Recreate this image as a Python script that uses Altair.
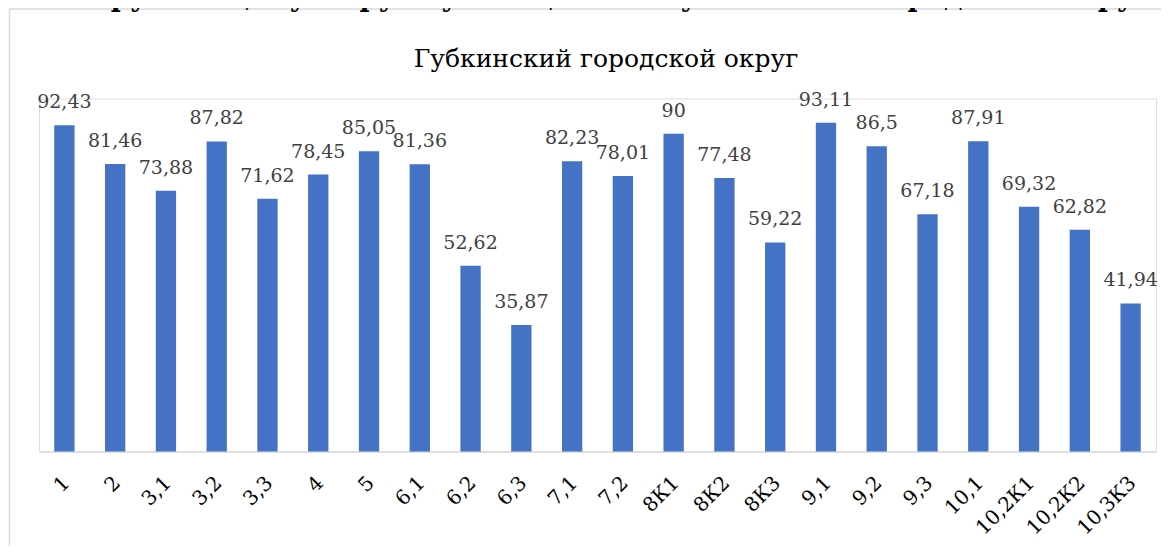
import altair as alt
import pandas as pd

categories = ["1", "2", "3,1", "3,2", "3,3", "4", "5", "6,1", "6,2", "6,3", "7,1", "7,2",
              "8К1", "8К2", "8К3", "9,1", "9,2", "9,3", "10,1", "10,2К1", "10,2К2", "10,3К3"]
values = [92.43, 81.46, 73.88, 87.82, 71.62, 78.45, 85.05, 81.36, 52.62, 35.87, 82.23, 78.01,
          90, 77.48, 59.22, 93.11, 86.5, 67.18, 87.91, 69.32, 62.82, 41.94]
chart_title = "Губкинский городской округ"
top_title = "по окружающему миру обучающимися Губкинского городского округа"

df = pd.DataFrame({"cat": categories, "value": values})

FONT = "DejaVu Serif"
W, H = 1117, 353

x = alt.X("cat:N", sort=categories, title=None,
          scale=alt.Scale(paddingInner=0.6, paddingOuter=0.3),
          axis=alt.Axis(labelAngle=315, labelAlign="right", labelBaseline="top",
                        labelFont=FONT, labelFontSize=20, labelColor="#000000",
                        labelPadding=21, labelOffset=-5, ticks=False,
                        domainColor="#D9D9D9", domainWidth=1.5, labelOverlap=False))
y = alt.Y("value:Q", scale=alt.Scale(domain=[0, 100]), axis=None)

base = alt.Chart(df)

bars = base.mark_bar(color="#4472C4").encode(x=x, y=y)

labels = base.transform_calculate(
    lbl="replace(toString(datum.value), '.', ',')"
).mark_text(font=FONT, fontSize=19, color="#404040", baseline="alphabetic", dy=-17).encode(
    x=alt.X("cat:N", sort=categories), y=y, text="lbl:N")

border = alt.Chart(pd.DataFrame({"a": [0]})).mark_rect(
    fill=None, stroke="#D9D9D9", strokeWidth=1.5
).encode(x=alt.value(-29.5), x2=alt.value(W + 100), y=alt.value(-89.5), y2=alt.value(H + 300))

title_txt = alt.Chart(pd.DataFrame({"t": [chart_title]})).mark_text(
    font=FONT, fontSize=25, color="#000000", baseline="alphabetic", align="center"
).encode(x=alt.value(567), y=alt.value(-31.5), text="t:N")

top_txt = alt.Chart(pd.DataFrame({"t": [top_title]})).mark_text(
    font=FONT, fontSize=27, fontWeight="bold", color="#000000", baseline="alphabetic", align="center"
).encode(x=alt.value(558), y=alt.value(-92.5), text="t:N")

chart = alt.layer(border, bars, labels, title_txt, top_txt).properties(
    width=W, height=H,
    padding={"left": 31, "top": 90.5, "right": 5, "bottom": 94},
    autosize=alt.AutoSizeParams(type="none"),
).configure_view(stroke=None).configure(background="white")

chart.save("out.html", embed_options={"renderer": "svg", "actions": False})
